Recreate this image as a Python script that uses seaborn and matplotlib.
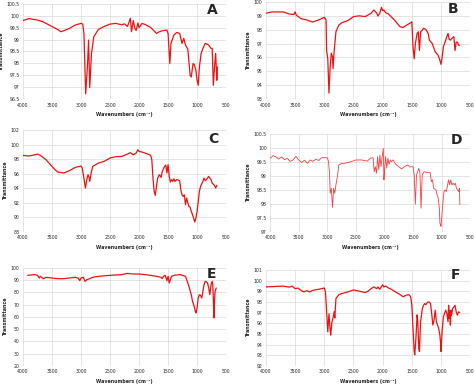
import numpy as np
import pandas as pd
import seaborn as sns
import matplotlib.pyplot as plt

# spectrum A
A_wn = [4000, 3900, 3800, 3750, 3650, 3500, 3400, 3350, 3300, 3200, 3100, 3000, 2970, 2950, 2920,
        2890, 2870, 2850, 2820, 2780, 2700, 2600, 2500, 2400, 2300, 2250, 2200, 2170, 2150, 2130,
        2100, 2070, 2050, 2020, 2000, 1950, 1900, 1800, 1700, 1650, 1600, 1520, 1500, 1470, 1450,
        1400, 1350, 1300, 1260, 1230, 1200, 1160, 1120, 1100, 1070, 1050, 1020, 1000, 980, 960,
        930, 900, 860, 800, 760, 740, 720, 700, 680, 660, 650]
A_T = [99.80, 99.88, 99.84, 99.82, 99.74, 99.55, 99.42, 99.33, 99.37, 99.47, 99.61, 99.68, 99.65, 99.26, 96.72,
       97.85, 98.98, 96.98, 98.40, 99.12, 99.43, 99.55, 99.65, 99.68, 99.62, 99.66, 99.55, 99.75, 99.90, 99.33,
       99.80, 99.45, 99.38, 99.70, 99.50, 99.68, 99.64, 99.51, 99.26, 99.33, 99.37, 99.40, 99.26, 97.99, 98.84,
       99.19, 99.30, 99.26, 98.84, 99.05, 98.77, 98.60, 97.50, 97.43, 97.99, 97.96, 97.71, 97.29, 97.08, 97.85,
       98.42, 98.62, 98.84, 98.77, 98.63, 98.63, 97.08, 97.85, 98.42, 97.29, 97.85]

# spectrum B
B_wn = [4000, 3900, 3700, 3600, 3520, 3500, 3480, 3400, 3300, 3200, 3100, 3000, 2970, 2960, 2940,
        2920, 2900, 2880, 2860, 2850, 2830, 2800, 2750, 2700, 2600, 2500, 2400, 2300, 2250, 2200,
        2150, 2100, 2080, 2050, 2020, 2000, 1980, 1950, 1900, 1800, 1700, 1650, 1600, 1520, 1500,
        1480, 1460, 1440, 1410, 1390, 1370, 1350, 1320, 1300, 1260, 1220, 1200, 1150, 1100, 1050,
        1020, 1000, 980, 960, 940, 900, 880, 860, 840, 800, 780, 760, 740, 720, 700, 680]
B_T = [99.18, 99.28, 99.28, 99.13, 99.10, 99.28, 99.05, 98.80, 98.70, 98.55, 98.70, 98.89, 98.70, 96.50, 95.90,
       93.43, 95.30, 96.30, 96.05, 95.20, 96.50, 97.85, 98.33, 98.50, 98.65, 98.94, 99.00, 98.94, 99.06, 99.18,
       99.42, 99.18, 98.99, 99.18, 99.61, 99.37, 99.42, 99.23, 99.13, 98.70, 98.21, 98.16, 98.30, 98.50, 98.57,
       96.76, 95.90, 96.99, 97.73, 97.85, 96.50, 97.85, 97.97, 98.10, 98.02, 97.73, 97.25, 97.00, 96.40, 96.16,
       95.80, 95.50, 96.04, 96.76, 97.00, 97.50, 97.73, 97.30, 97.25, 97.44, 97.49, 96.50, 97.10, 97.10, 96.88, 96.88]

# spectrum C
C_wn = [4000, 3900, 3800, 3750, 3700, 3600, 3500, 3450, 3400, 3300, 3200, 3100, 3000, 2980, 2950,
        2925, 2900, 2880, 2860, 2850, 2820, 2800, 2700, 2600, 2500, 2400, 2300, 2200, 2150, 2100,
        2050, 2020, 2000, 1950, 1900, 1850, 1800, 1780, 1760, 1740, 1720, 1700, 1680, 1650, 1620,
        1600, 1560, 1540, 1520, 1500, 1480, 1460, 1440, 1420, 1400, 1380, 1350, 1300, 1280, 1260,
        1240, 1220, 1200, 1180, 1160, 1140, 1120, 1100, 1080, 1060, 1040, 1020, 1000, 980, 960,
        940, 900, 880, 860, 840, 800, 780, 760, 740, 720, 700, 680, 660]
C_T = [98.52, 98.43, 98.60, 98.70, 98.52, 97.90, 97.00, 96.56, 96.24, 96.10, 96.42, 96.87, 97.06, 96.80, 95.40,
       94.04, 95.20, 95.87, 95.50, 94.95, 96.30, 97.00, 97.47, 97.70, 98.16, 98.34, 98.38, 98.70, 98.90, 98.60,
       98.84, 99.30, 99.07, 98.98, 98.84, 98.70, 98.52, 97.93, 95.40, 93.58, 93.03, 94.27, 95.40, 95.87, 95.50,
       96.33, 97.00, 97.20, 96.10, 97.24, 95.64, 94.86, 95.18, 94.95, 95.30, 94.95, 95.20, 95.04, 93.80, 93.10,
       92.90, 93.10, 91.75, 92.67, 92.00, 91.50, 91.40, 90.84, 90.40, 89.92, 89.37, 89.92, 90.84, 92.20, 93.58,
       94.27, 94.95, 95.40, 95.05, 95.18, 95.64, 95.40, 95.20, 94.70, 94.56, 94.40, 94.04, 94.40]

# spectrum D
D_wn = [4000, 3950, 3900, 3850, 3800, 3750, 3700, 3650, 3600, 3550, 3500, 3450, 3400, 3350, 3300,
        3250, 3200, 3150, 3100, 3000, 2980, 2960, 2950, 2930, 2910, 2890, 2870, 2850, 2820, 2800,
        2750, 2700, 2600, 2500, 2400, 2300, 2250, 2200, 2180, 2160, 2140, 2120, 2100, 2080, 2060,
        2040, 2020, 2010, 2000, 1980, 1960, 1940, 1920, 1900, 1880, 1850, 1800, 1750, 1700, 1650,
        1600, 1550, 1520, 1500, 1480, 1460, 1440, 1420, 1400, 1380, 1360, 1340, 1320, 1300, 1250,
        1200, 1180, 1160, 1140, 1100, 1080, 1060, 1040, 1030, 1020, 1010, 1000, 980, 960, 940,
        920, 900, 880, 870, 860, 840, 820, 800, 780, 760, 740, 720, 700, 690, 680]
D_T = [99.63, 99.72, 99.68, 99.60, 99.68, 99.58, 99.63, 99.52, 99.57, 99.70, 99.57, 99.48, 99.56, 99.45, 99.57,
       99.52, 99.60, 99.55, 99.65, 99.65, 99.52, 99.03, 98.38, 98.56, 97.88, 98.56, 98.38, 98.68, 99.03, 99.39,
       99.45, 99.45, 99.50, 99.57, 99.57, 99.53, 99.63, 99.65, 99.15, 99.33, 99.10, 99.69, 99.22, 99.74, 99.33,
       99.69, 99.98, 98.86, 99.15, 99.69, 99.28, 99.63, 99.42, 99.57, 99.51, 99.57, 99.41, 99.33, 99.25, 99.33,
       99.39, 99.32, 99.33, 99.33, 99.03, 97.99, 99.03, 99.15, 99.27, 99.10, 97.85, 99.03, 99.12, 99.15, 99.12,
       99.12, 98.80, 98.86, 98.56, 98.50, 98.33, 98.21, 97.85, 97.32, 97.26, 97.20, 97.50, 97.97, 98.44, 98.50,
       98.44, 98.62, 98.86, 98.80, 98.68, 98.86, 98.68, 98.74, 98.68, 98.74, 98.56, 98.50, 98.44, 98.56, 97.97]

# spectrum E
E_wn = [3920, 3800, 3750, 3720, 3700, 3650, 3600, 3500, 3400, 3300, 3200, 3100, 3050, 3020, 3000,
        2960, 2930, 2900, 2850, 2800, 2700, 2500, 2300, 2200, 2100, 2000, 1900, 1800, 1700, 1620,
        1600, 1580, 1550, 1520, 1500, 1480, 1460, 1440, 1400, 1300, 1250, 1200, 1150, 1100, 1080,
        1050, 1030, 1020, 1000, 980, 960, 940, 920, 900, 880, 860, 840, 820, 800, 780, 760,
        740, 730, 720, 710, 700, 690, 670]
E_T = [94.0, 94.6, 94.0, 91.8, 93.2, 91.2, 92.4, 91.8, 91.3, 91.3, 91.8, 92.4, 91.8, 89.7, 91.8,
       92.4, 89.1, 90.5, 91.3, 92.4, 93.2, 94.0, 94.6, 95.6, 95.1, 95.1, 94.6, 94.0, 93.2, 92.4,
       91.3, 93.2, 94.0, 89.7, 93.2, 87.8, 90.5, 93.2, 94.0, 94.6, 94.0, 93.2, 86.4, 78.2, 73.0,
       68.7, 64.6, 63.3, 67.3, 75.5, 78.2, 77.7, 75.5, 81.0, 86.4, 89.1, 88.6, 87.8, 83.7, 78.2, 86.4,
       89.1, 86.4, 75.5, 59.2, 72.9, 81.0, 83.7]

# spectrum F
F_wn = [4000, 3900, 3800, 3700, 3600, 3550, 3500, 3450, 3400, 3350, 3300, 3250, 3200, 3100, 3000,
        2980, 2960, 2940, 2920, 2900, 2890, 2870, 2850, 2830, 2820, 2800, 2750, 2700, 2600, 2500,
        2400, 2300, 2250, 2200, 2150, 2100, 2080, 2050, 2000, 1980, 1950, 1900, 1850, 1800, 1700,
        1650, 1600, 1550, 1520, 1500, 1480, 1460, 1450, 1430, 1410, 1400, 1380, 1370, 1350, 1320,
        1300, 1280, 1260, 1230, 1200, 1180, 1160, 1140, 1120, 1100, 1080, 1060, 1040, 1020, 1010,
        1000, 990, 980, 960, 940, 920, 900, 880, 870, 860, 850, 840, 830, 820, 800, 780, 760,
        740, 720, 700, 680]
F_T = [99.42, 99.45, 99.48, 99.50, 99.40, 99.50, 99.26, 99.32, 99.10, 98.95, 99.07, 98.95, 99.10, 99.20, 99.32,
       98.95, 97.10, 95.20, 96.90, 95.40, 94.90, 96.10, 96.50, 97.10, 96.50, 98.33, 98.70, 98.80, 98.95, 99.14,
       99.02, 98.90, 99.02, 99.26, 99.42, 99.26, 99.42, 99.20, 99.63, 99.42, 99.51, 99.32, 99.20, 99.02, 98.70,
       98.50, 98.64, 98.70, 98.50, 97.70, 95.53, 93.36, 93.05, 94.60, 96.80, 96.33, 93.67, 93.36, 96.15, 97.40,
       97.70, 97.86, 97.76, 98.00, 98.00, 97.86, 96.93, 95.84, 96.30, 97.24, 96.15, 95.84, 95.53, 94.90, 94.30,
       93.36, 94.45, 95.38, 96.60, 96.93, 97.24, 96.93, 96.15, 97.70, 96.46, 97.24, 95.84, 97.24, 96.77, 97.40, 97.55, 97.70,
       97.08, 96.78, 97.08, 97.02]

labels = ['A', 'B', 'C', 'D', 'E', 'F']
yticks = [np.arange(96.5, 100.51, 0.5), np.arange(93, 100.1, 1), np.arange(88, 102.1, 2),
          np.arange(97, 100.51, 0.5), np.arange(20, 100.1, 10), np.arange(92, 101.1, 1)]
spectra = [(A_wn, A_T), (B_wn, B_T), (C_wn, C_T), (D_wn, D_T), (E_wn, E_T), (F_wn, F_T)]

# axes rectangles in figure fractions [left, bottom, width, height]
rects = [[0.0485, 0.744, 0.4285, 0.246], [0.561, 0.744, 0.431, 0.251],
         [0.0485, 0.4005, 0.4285, 0.2635], [0.570, 0.4005, 0.422, 0.2535],
         [0.0485, 0.0543, 0.4285, 0.2532], [0.561, 0.0543, 0.431, 0.2477]]
letter_pos = [(0.93, 0.935), (0.917, 0.93), (0.935, 0.91), (0.93, 0.94), (0.93, 0.94), (0.926, 0.95)]

sns.set_style('white')
plt.rcParams['font.family'] = ['DejaVu Sans']
fig = plt.figure(figsize=(4.74, 3.87), dpi=100)

for i, (wn, T) in enumerate(spectra):
    ax = fig.add_axes(rects[i])
    df = pd.DataFrame({'wn': wn, 'T': T})
    lw = 0.6 if labels[i] == 'D' else 0.9
    col = '#f04040' if labels[i] == 'D' else '#ee1111'
    sns.lineplot(data=df, x='wn', y='T', ax=ax, color=col, linewidth=lw, sort=False, estimator=None)
    ax.set_xlim(4000, 500)
    ax.set_xticks(np.arange(4000, 499, -500))
    ax.set_yticks(yticks[i])
    ax.set_ylim(yticks[i][0], yticks[i][-1])
    ax.set_yticklabels([f'{v:g}' for v in yticks[i]])
    ax.grid(True, color='#d9d9d9', linewidth=0.5)
    ax.set_axisbelow(True)
    for s in ax.spines.values():
        s.set_visible(False)
    ax.tick_params(labelsize=3.3, length=0, pad=2.5)
    ax.set_xlabel('Wavenumbers (cm⁻¹)', fontsize=3.4, fontweight='bold', labelpad=3)
    ax.set_ylabel('Transmittance', fontsize=3.4, fontweight='bold', labelpad=2)
    ax.text(letter_pos[i][0], letter_pos[i][1], labels[i], transform=ax.transAxes,
            fontsize=10, fontweight='bold', ha='center', va='center')

fig.savefig('out.png', dpi=100)
